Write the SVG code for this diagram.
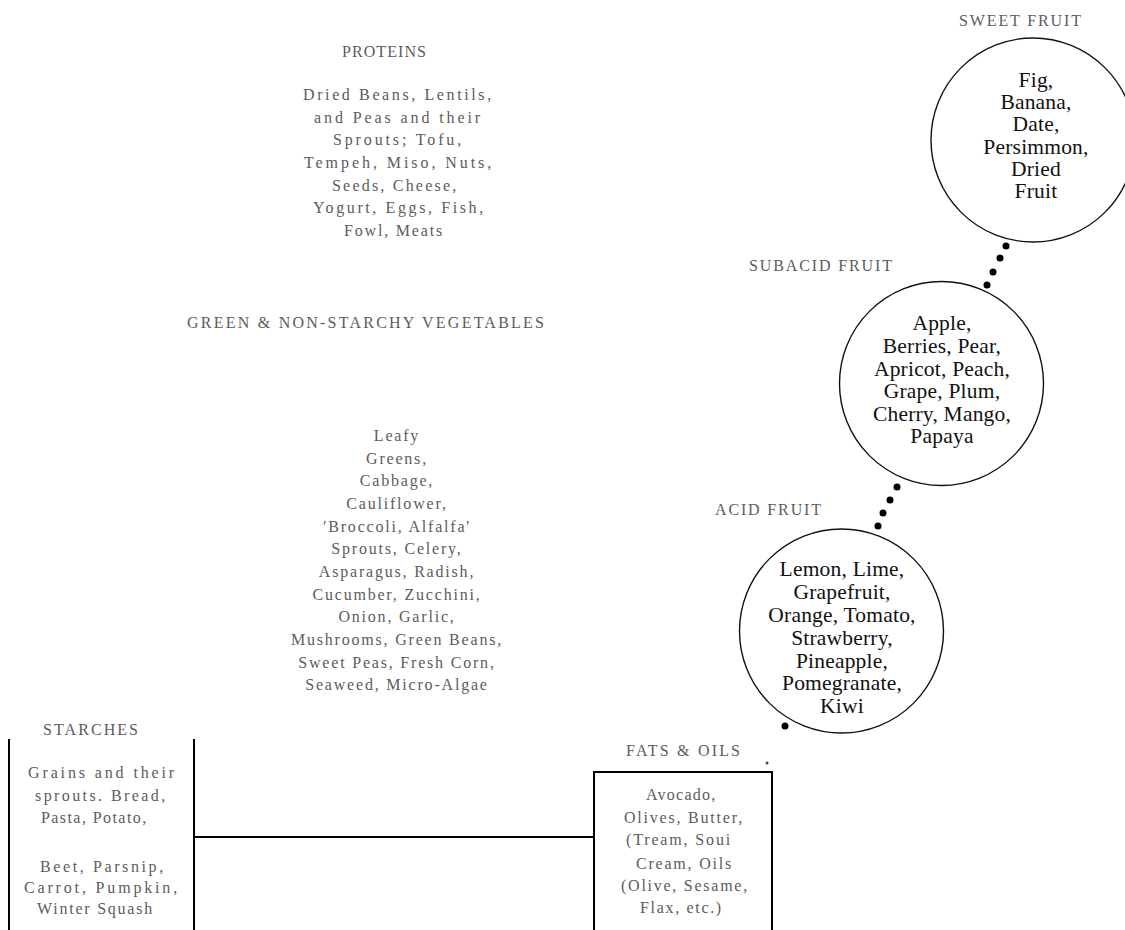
<svg xmlns="http://www.w3.org/2000/svg" width="1125" height="930" viewBox="0 0 1125 930">
<style>
.hd{font-family:"Liberation Serif","Times New Roman",serif;font-size:16px;fill:#5c5c5c;letter-spacing:2px}
.gt{font-family:"Liberation Serif","Times New Roman",serif;font-size:16px;fill:#5c5c5c;letter-spacing:1.8px}
.ct{font-family:"Liberation Serif","Times New Roman",serif;font-size:21.5px;fill:#111;text-anchor:middle;letter-spacing:0.2px}
.circ{fill:none;stroke:#111;stroke-width:1.4}
.ln{fill:none;stroke:#000;stroke-width:2}
.dot{fill:#000}
</style>
<rect width="1125" height="930" fill="#fff"/>

<g id="proteins">
<text class="hd" x="342" y="57" textLength="86">PROTEINS</text>
<text class="gt" x="303" y="100" textLength="190">Dried Beans, Lentils,</text>
<text class="gt" x="314" y="123" textLength="168">and Peas and their</text>
<text class="gt" x="333" y="145" textLength="130">Sprouts; Tofu,</text>
<text class="gt" x="304" y="168" textLength="189">Tempeh, Miso, Nuts,</text>
<text class="gt" x="332" y="191" textLength="126">Seeds, Cheese,</text>
<text class="gt" x="313" y="213" textLength="172">Yogurt, Eggs, Fish,</text>
<text class="gt" x="344" y="236" textLength="100">Fowl, Meats</text>
</g>

<g id="vegetables">
<text class="hd" x="187" y="328" textLength="359">GREEN &amp; NON-STARCHY VEGETABLES</text>
<g text-anchor="middle">
<text class="gt" x="397" y="441">Leafy</text>
<text class="gt" x="397" y="464">Greens,</text>
<text class="gt" x="397" y="486">Cabbage,</text>
<text class="gt" x="397" y="509">Cauliflower,</text>
<text class="gt" x="397" y="532">′Broccoli, Alfalfa'</text>
<text class="gt" x="397" y="554">Sprouts, Celery,</text>
<text class="gt" x="397" y="577">Asparagus, Radish,</text>
<text class="gt" x="397" y="600">Cucumber, Zucchini,</text>
<text class="gt" x="397" y="622">Onion, Garlic,</text>
<text class="gt" x="397" y="645">Mushrooms, Green Beans,</text>
<text class="gt" x="397" y="668">Sweet Peas, Fresh Corn,</text>
<text class="gt" x="397" y="690">Seaweed, Micro-Algae</text>
</g>
</g>

<g id="sweet-fruit">
<text class="hd" x="959" y="26" textLength="124">SWEET FRUIT</text>
<circle class="circ" cx="1033" cy="140" r="102"/>
<text class="ct" x="1036" y="87">Fig,</text>
<text class="ct" x="1036" y="109">Banana,</text>
<text class="ct" x="1036" y="131">Date,</text>
<text class="ct" x="1036" y="154">Persimmon,</text>
<text class="ct" x="1036" y="176">Dried</text>
<text class="ct" x="1036" y="198">Fruit</text>
</g>

<g id="subacid-fruit">
<text class="hd" x="749" y="271" textLength="145">SUBACID FRUIT</text>
<circle class="circ" cx="941.5" cy="383.5" r="102"/>
<text class="ct" x="942" y="330">Apple,</text>
<text class="ct" x="942" y="353">Berries, Pear,</text>
<text class="ct" x="942" y="376">Apricot, Peach,</text>
<text class="ct" x="942" y="398">Grape, Plum,</text>
<text class="ct" x="942" y="421">Cherry, Mango,</text>
<text class="ct" x="942" y="443">Papaya</text>
</g>

<g id="acid-fruit">
<text class="hd" x="715" y="515" textLength="108">ACID FRUIT</text>
<circle class="circ" cx="841.5" cy="631" r="102"/>
<text class="ct" x="842" y="576">Lemon, Lime,</text>
<text class="ct" x="842" y="599">Grapefruit,</text>
<text class="ct" x="842" y="622">Orange, Tomato,</text>
<text class="ct" x="842" y="645">Strawberry,</text>
<text class="ct" x="842" y="668">Pineapple,</text>
<text class="ct" x="842" y="690">Pomegranate,</text>
<text class="ct" x="842" y="713">Kiwi</text>
</g>

<g id="starches">
<text class="hd" x="43" y="735" textLength="97">STARCHES</text>
<text class="gt" x="28" y="778" textLength="148">Grains and their</text>
<text class="gt" x="35" y="801" textLength="132">sprouts. Bread,</text>
<text class="gt" x="41" y="823" textLength="107">Pasta, Potato,</text>
<text class="gt" x="40" y="872" textLength="125">Beet, Parsnip,</text>
<text class="gt" x="24" y="893" textLength="155">Carrot, Pumpkin,</text>
<text class="gt" x="37" y="914" textLength="117">Winter Squash</text>
</g>

<g id="fats-oils">
<text class="hd" x="626" y="756" textLength="116">FATS &amp; OILS</text>
<rect x="594" y="772" width="178" height="170" fill="none" stroke="#000" stroke-width="2"/>
<text class="gt" x="646" y="800" textLength="71">Avocado,</text>
<text class="gt" x="624" y="823" textLength="120">Olives, Butter,</text>
<text class="gt" x="626" y="845" textLength="106">(Tream, Soui</text>
<text class="gt" x="636" y="869" textLength="97">Cream, Oils</text>
<text class="gt" x="621" y="891" textLength="128">(Olive, Sesame,</text>
<text class="gt" x="640" y="913" textLength="83">Flax, etc.)</text>
</g>

<g id="connectors">
<line class="ln" x1="9" y1="739" x2="9" y2="930"/>
<line class="ln" x1="194" y1="739" x2="194" y2="930"/>
<line class="ln" x1="194" y1="837" x2="594" y2="837"/>
<circle class="dot" cx="1006" cy="246" r="3.5"/>
<circle class="dot" cx="1000" cy="258" r="3.5"/>
<circle class="dot" cx="993" cy="272" r="3.5"/>
<circle class="dot" cx="987" cy="285" r="3.5"/>
<circle class="dot" cx="897" cy="487" r="3.5"/>
<circle class="dot" cx="890" cy="500" r="3.5"/>
<circle class="dot" cx="883" cy="513" r="3.5"/>
<circle class="dot" cx="878" cy="526" r="3.5"/>
<circle class="dot" cx="785" cy="726" r="3.5"/>
<circle cx="767" cy="763" r="1.5" fill="#444"/>
</g>
</svg>
